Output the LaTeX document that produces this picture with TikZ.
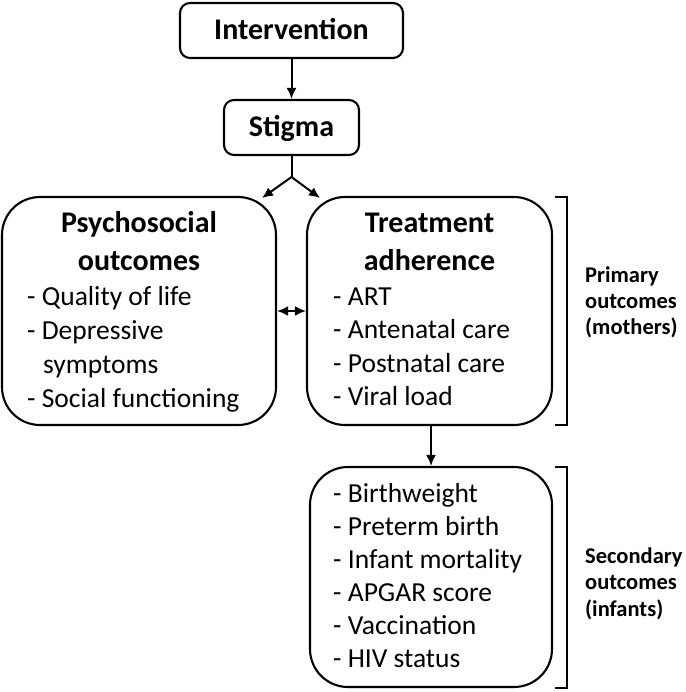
\documentclass[tikz,border=0pt]{standalone}
\usepackage{fontspec}
\setmainfont{Carlito}
\usetikzlibrary{arrows.meta}
\tikzset{
  box/.style={draw, line width=2.1pt, rounded corners=10pt, inner sep=0pt},
  bigbox/.style={draw, line width=2.1pt, rounded corners=38pt, inner sep=0pt},
  ttl/.style={inner sep=0pt, anchor=base, font=\fontsize{30}{34}\selectfont\bfseries},
  item/.style={inner sep=0pt, anchor=base west, font=\fontsize{27.5}{33}\selectfont},
  lab/.style={inner sep=0pt, anchor=base west, font=\fontsize{22.5}{26}\selectfont\bfseries},
  tip/.tip={Latex[length=11pt,width=10pt]},
  conn/.style={line width=2pt, -tip},
  brk/.style={line width=2.1pt}
}
\begin{document}
\begin{tikzpicture}[x=1pt,y=-1pt]
\useasboundingbox (0,0) rectangle (685,692);
% boxes
\node[box, minimum width=223pt, minimum height=55pt] (interv) at (291.5,30.5) {};
\node[box, minimum width=135pt, minimum height=55pt] (stigma) at (291.5,127.5) {};
\node[bigbox, minimum width=274pt, minimum height=228pt] (psy) at (139,311) {};
\node[bigbox, minimum width=245pt, minimum height=228pt] (treat) at (429.5,311) {};
\node[bigbox, minimum width=242pt, minimum height=220pt] (infant) at (431,577) {};
% titles
\node[ttl] (tI) at (291.5,40) {Intervention};
\node[ttl] (tS) at (291.5,137) {Stigma};
\node[ttl] (tP1) at (139,233) {Psychosocial};
\node[ttl] (tP2) at (139,270) {outcomes};
\node[ttl] (tT1) at (429.5,233) {Treatment};
\node[ttl] (tT2) at (429.5,270) {adherence};
% left list
\node[item] (p1) at (27,305) {- Quality of life};
\node[item] (p2) at (27,339) {- Depressive};
\node[item] (p3) at (43,373) {symptoms};
\node[item] (p4) at (27,407) {- Social functioning};
% right list
\node[item] (a1) at (333,305) {- ART};
\node[item] (a2) at (333,338.5) {- Antenatal care};
\node[item] (a3) at (333,372) {- Postnatal care};
\node[item] (a4) at (333,405.5) {- Viral load};
% bottom list
\node[item] (b1) at (333,502) {- Birthweight};
\node[item] (b2) at (333,535) {- Preterm birth};
\node[item] (b3) at (333,568) {- Infant mortality};
\node[item] (b4) at (333,601) {- APGAR score};
\node[item] (b5) at (333,634) {- Vaccination};
\node[item] (b6) at (333,667) {- HIV status};
% bracket labels
\node[lab] (l1) at (585,282) {Primary};
\node[lab] (l2) at (585,308) {outcomes};
\node[lab] (l3) at (585,334) {(mothers)};
\node[lab] (l4) at (585,563) {Secondary};
\node[lab] (l5) at (585,589.5) {outcomes};
\node[lab] (l6) at (585,616) {(infants)};
% connectors
\coordinate (split) at (291.5,177);
\coordinate (tipL) at (262,198);
\coordinate (tipR) at (320,198);
\draw[conn] (interv) -- (stigma);
\draw[line width=2pt] (stigma.south) -- (split);
\draw[conn] (split) -- (tipL);
\draw[conn] (split) -- (tipR);
\draw[line width=2pt, tip-tip] (psy.east) -- (treat.west);
\draw[conn] (treat.south -| infant.north) -- (infant.north);
% brackets
\coordinate (k1a) at (555,197);
\coordinate (k1b) at (567,197);
\coordinate (k1c) at (567,425);
\coordinate (k1d) at (555,425);
\draw[brk] (k1a) -- (k1b) -- (k1c) -- (k1d);
\coordinate (k2a) at (555,467);
\coordinate (k2b) at (567,467);
\coordinate (k2c) at (567,688);
\coordinate (k2d) at (555,688);
\draw[brk] (k2a) -- (k2b) -- (k2c) -- (k2d);
\end{tikzpicture}
\end{document}
